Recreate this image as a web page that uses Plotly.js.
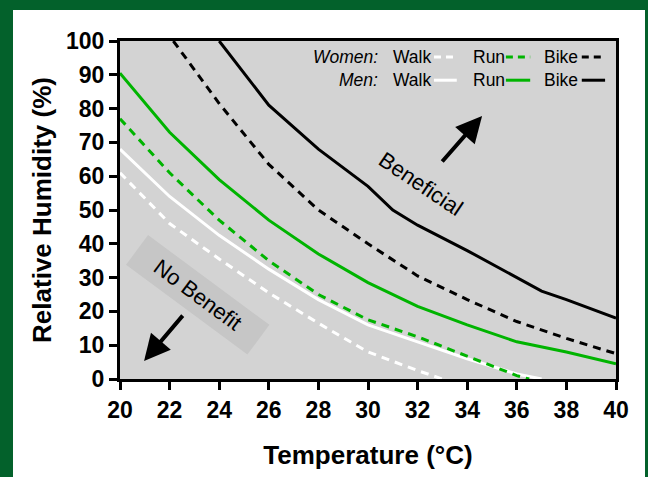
<!DOCTYPE html>
<html>
<head>
<meta charset="utf-8">
<script src="https://cdn.plot.ly/plotly-3.0.1.min.js"></script>
<style>
  html, body { margin: 0; padding: 0; width: 648px; height: 477px; overflow: hidden; background: #03612B; }
  #chart { position: absolute; left: 13px; top: 10px; width: 632px; height: 467px; background: #ffffff; }
</style>
</head>
<body>
<div id="chart"></div>
<script>
// ---- Data ----
const tempWomenWalk = [20, 22, 24, 26, 28, 30, 32, 33];
const rhWomenWalk   = [61, 46, 35.5, 25.5, 16.5, 8, 2.5, 0];

const tempMenWalk = [20, 22, 24, 26, 28, 30, 32, 34, 36, 37];
const rhMenWalk   = [68, 54, 42.5, 32.5, 23.5, 16, 11, 6, 1.5, 0];

const tempWomenRun = [20, 22, 24, 26, 28, 30, 32, 34, 36, 36.5];
const rhWomenRun   = [77, 61, 47, 35, 25, 17.5, 12.5, 6.8, 1, 0];

const tempMenRun = [20, 22, 24, 26, 28, 30, 32, 34, 36, 38, 40];
const rhMenRun   = [90.5, 73, 59, 47, 37, 28.5, 21.5, 16, 11, 8, 4.5];

const tempWomenBike = [22.15, 24, 26, 28, 30, 32, 34, 36, 38, 40];
const rhWomenBike   = [100, 81.5, 63.5, 50, 40, 30.5, 23.5, 17, 12, 7.5];

const tempMenBike = [24, 26, 28, 30, 31, 32, 34, 36, 37, 38, 40];
const rhMenBike   = [100, 81, 68, 57, 50, 45.5, 38, 30, 26, 23.5, 18];

const xTickVals = [20, 22, 24, 26, 28, 30, 32, 34, 36, 38, 40];
const yTickVals = [0, 10, 20, 30, 40, 50, 60, 70, 80, 90, 100];

const legendGroups = ['Women:', 'Men:'];
const activities = ['Walk', 'Run', 'Bike'];

const regionLabels = ['Beneficial', 'No Benefit'];

// ---- Styles ----
const GREEN = '#00b400';
const actColor = { Walk: '#ffffff', Run: GREEN, Bike: '#000000' };
const DASH = '8px,6px';
const LW = 3;
const FONT = 'Liberation Sans, Arial, Helvetica, sans-serif';

function tr(x, y, act, dashed, name) {
  return {
    x: x, y: y, type: 'scatter', mode: 'lines', name: name,
    line: { color: actColor[act], width: LW, dash: dashed ? DASH : 'solid' },
    hoverinfo: 'skip', showlegend: false, cliponaxis: true
  };
}

const data = [
  tr(tempWomenWalk, rhWomenWalk, 'Walk', true, 'Women Walk'),
  tr(tempMenWalk, rhMenWalk, 'Walk', false, 'Men Walk'),
  tr(tempWomenRun, rhWomenRun, 'Run', true, 'Women Run'),
  tr(tempMenRun, rhMenRun, 'Run', false, 'Men Run'),
  tr(tempWomenBike, rhWomenBike, 'Bike', true, 'Women Bike'),
  tr(tempMenBike, rhMenBike, 'Bike', false, 'Men Bike')
];

// ---- Custom legend (text before line samples) ----
const annotations = [];
const shapes = [];
const rowY = [0.953, 0.884];
const groupRightX = 0.524;
const actTextX = [0.5464, 0.7077, 0.851];
const sampleX = [[0.633, 0.679], [0.778, 0.827], [0.931, 0.978]];
legendGroups.forEach(function (g, r) {
  annotations.push({
    xref: 'paper', yref: 'paper', x: groupRightX, y: rowY[r],
    xanchor: 'right', yanchor: 'middle', showarrow: false,
    text: '<i>' + g + '</i>', font: { family: FONT, size: 17.5, color: '#000' }
  });
  activities.forEach(function (a, i) {
    annotations.push({
      xref: 'paper', yref: 'paper', x: actTextX[i], y: rowY[r],
      xanchor: 'left', yanchor: 'middle', showarrow: false,
      text: a, font: { family: FONT, size: 17.5, color: '#000' }
    });
    shapes.push({
      type: 'line', xref: 'paper', yref: 'paper',
      x0: sampleX[i][0], x1: sampleX[i][1], y0: rowY[r], y1: rowY[r],
      line: { color: actColor[a], width: LW, dash: r === 0 ? '7px,5px' : 'solid' }
    });
  });
});

// Region labels
annotations.push({
  x: 32.1, y: 57.7, xref: 'x', yref: 'y', showarrow: false,
  text: regionLabels[0], textangle: 34,
  font: { family: FONT, size: 22, color: '#000' }
});
annotations.push({
  x: 23.15, y: 25, xref: 'x', yref: 'y', showarrow: false,
  text: regionLabels[1], textangle: 36.5,
  width: 144, height: 30, borderpad: 3, bgcolor: '#c6c6c6',
  font: { family: FONT, size: 22, color: '#000' }
});
// Arrows
annotations.push({
  x: 34.6, y: 77.8, ax: 32.94, ay: 63.9, xref: 'x', yref: 'y', axref: 'x', ayref: 'y',
  text: '', showarrow: true, arrowhead: 2, arrowsize: 1.3, arrowwidth: 4, arrowcolor: '#000', standoff: 0
});
annotations.push({
  x: 20.97, y: 5.3, ax: 22.58, ay: 19.2, xref: 'x', yref: 'y', axref: 'x', ayref: 'y',
  text: '', showarrow: true, arrowhead: 2, arrowsize: 1.3, arrowwidth: 4, arrowcolor: '#000', standoff: 0
});

const layout = {
  width: 632, height: 467,
  margin: { l: 107, r: 29, t: 31, b: 98, pad: 0 },
  paper_bgcolor: '#ffffff',
  plot_bgcolor: '#d3d3d3',
  showlegend: false,
  font: { family: FONT, color: '#000' },
  xaxis: {
    range: [20, 40], tickvals: xTickVals, ticktext: xTickVals.map(String),
    showgrid: false, zeroline: false,
    showline: true, mirror: true, linecolor: '#000', linewidth: 3,
    ticks: 'outside', ticklen: 8, tickwidth: 3, tickcolor: '#000',
    tickfont: { family: FONT, size: 23, color: '#000', weight: 'bold' },
    title: { text: '<b>Temperature (°C)</b>', font: { family: FONT, size: 26, color: '#000' }, standoff: 25 },
    fixedrange: true
  },
  yaxis: {
    range: [0, 100], tickvals: yTickVals, ticktext: yTickVals.map(String),
    showgrid: false, zeroline: false,
    showline: true, mirror: true, linecolor: '#000', linewidth: 3,
    ticks: 'outside', ticklen: 8, tickwidth: 3, tickcolor: '#000',
    tickfont: { family: FONT, size: 23, color: '#000', weight: 'bold' },
    title: { text: '<b>Relative Humidity (%)</b>', font: { family: FONT, size: 26, color: '#000' }, standoff: 7 },
    fixedrange: true
  },
  annotations: annotations,
  shapes: shapes
};

Plotly.newPlot('chart', data, layout, { staticPlot: true, displayModeBar: false });
</script>
</body>
</html>
